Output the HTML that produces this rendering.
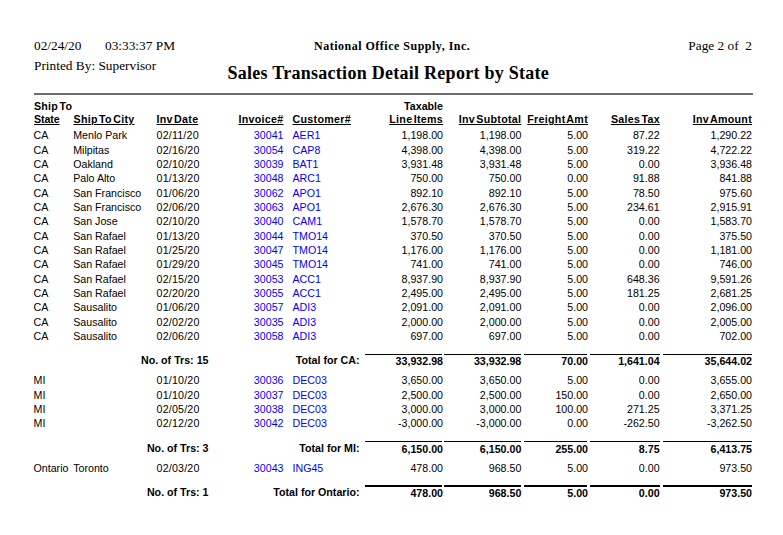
<!DOCTYPE html>
<html><head><meta charset="utf-8"><title>Sales Transaction Detail Report by State</title>
<style>
html,body{margin:0;padding:0;background:#fff;}
body{width:783px;height:535px;position:relative;overflow:hidden;font-family:"Liberation Sans",sans-serif;}
.t{position:absolute;white-space:nowrap;font-family:"Liberation Sans",sans-serif;font-size:10.67px;line-height:14px;color:#000;}
.b{color:#0000ff;}
.bd{font-weight:bold;}
.s{font-family:"Liberation Serif",serif;font-size:13.33px;line-height:16px;color:#000;}
.u{text-decoration:underline;font-weight:bold;letter-spacing:0.3px;word-spacing:-2px;text-underline-offset:1px;}
.d{letter-spacing:0.2px;}
.ln{position:absolute;background:#000;}
</style></head><body>
<span class="t s" style="left:34px;top:38px">02/24/20</span>
<span class="t s" style="left:105px;top:38px">03:33:37 PM</span>
<span class="t s" style="left:34px;top:57.5px">Printed By: Supervisor</span>
<span class="t s" style="left:314px;top:37.5px;font-weight:bold;font-size:12px;letter-spacing:0.5px">National Office Supply, Inc.</span>
<span class="t s" style="right:31px;top:38px">Page 2 of&nbsp; 2</span>
<span class="t s" style="left:227.5px;top:61.8px;font-weight:bold;font-size:18px;line-height:22px;letter-spacing:0.27px">Sales Transaction Detail Report by State</span>
<div class="ln" style="left:34px;top:93px;width:719px;height:2px;background:#6e6e6e"></div>
<span class="t bd" style="left:34px;top:99.3px;word-spacing:-1.5px;letter-spacing:0.2px">Ship To</span>
<span class="t u" style="left:34px;top:111.8px;letter-spacing:-0.1px">State</span>
<span class="t u" style="left:73.5px;top:111.8px">Ship To City</span>
<span class="t u" style="left:156.5px;top:111.8px">Inv Date</span>
<span class="t u" style="right:499.5px;top:111.8px">Invoice#</span>
<span class="t u" style="left:292.5px;top:111.8px">Customer#</span>
<span class="t bd" style="right:340px;top:99.3px">Taxable</span>
<span class="t u" style="right:340px;top:111.8px">Line Items</span>
<span class="t u" style="right:261.70000000000005px;top:111.8px">Inv Subtotal</span>
<span class="t u" style="right:195px;top:111.8px">Freight Amt</span>
<span class="t u" style="right:123px;top:111.8px">Sales Tax</span>
<span class="t u" style="right:31px;top:111.8px">Inv Amount</span>
<span class="t " style="left:33.5px;top:128.3px">CA</span>
<span class="t " style="left:73.2px;top:128.3px">Menlo Park</span>
<span class="t d" style="left:156.5px;top:128.3px">02/11/20</span>
<span class="t b" style="right:499.5px;top:128.3px">30041</span>
<span class="t b" style="left:292.5px;top:128.3px">AER1</span>
<span class="t " style="right:340px;top:128.3px">1,198.00</span>
<span class="t " style="right:261.7px;top:128.3px">1,198.00</span>
<span class="t " style="right:195px;top:128.3px">5.00</span>
<span class="t " style="right:123.4px;top:128.3px">87.22</span>
<span class="t " style="right:31px;top:128.3px">1,290.22</span>
<span class="t " style="left:33.5px;top:143.3px">CA</span>
<span class="t " style="left:73.2px;top:143.3px">Milpitas</span>
<span class="t d" style="left:156.5px;top:143.3px">02/16/20</span>
<span class="t b" style="right:499.5px;top:143.3px">30054</span>
<span class="t b" style="left:292.5px;top:143.3px">CAP8</span>
<span class="t " style="right:340px;top:143.3px">4,398.00</span>
<span class="t " style="right:261.7px;top:143.3px">4,398.00</span>
<span class="t " style="right:195px;top:143.3px">5.00</span>
<span class="t " style="right:123.4px;top:143.3px">319.22</span>
<span class="t " style="right:31px;top:143.3px">4,722.22</span>
<span class="t " style="left:33.5px;top:157.3px">CA</span>
<span class="t " style="left:73.2px;top:157.3px">Oakland</span>
<span class="t d" style="left:156.5px;top:157.3px">02/10/20</span>
<span class="t b" style="right:499.5px;top:157.3px">30039</span>
<span class="t b" style="left:292.5px;top:157.3px">BAT1</span>
<span class="t " style="right:340px;top:157.3px">3,931.48</span>
<span class="t " style="right:261.7px;top:157.3px">3,931.48</span>
<span class="t " style="right:195px;top:157.3px">5.00</span>
<span class="t " style="right:123.4px;top:157.3px">0.00</span>
<span class="t " style="right:31px;top:157.3px">3,936.48</span>
<span class="t " style="left:33.5px;top:171.3px">CA</span>
<span class="t " style="left:73.2px;top:171.3px">Palo Alto</span>
<span class="t d" style="left:156.5px;top:171.3px">01/13/20</span>
<span class="t b" style="right:499.5px;top:171.3px">30048</span>
<span class="t b" style="left:292.5px;top:171.3px">ARC1</span>
<span class="t " style="right:340px;top:171.3px">750.00</span>
<span class="t " style="right:261.7px;top:171.3px">750.00</span>
<span class="t " style="right:195px;top:171.3px">0.00</span>
<span class="t " style="right:123.4px;top:171.3px">91.88</span>
<span class="t " style="right:31px;top:171.3px">841.88</span>
<span class="t " style="left:33.5px;top:186.3px">CA</span>
<span class="t " style="left:73.2px;top:186.3px">San Francisco</span>
<span class="t d" style="left:156.5px;top:186.3px">01/06/20</span>
<span class="t b" style="right:499.5px;top:186.3px">30062</span>
<span class="t b" style="left:292.5px;top:186.3px">APO1</span>
<span class="t " style="right:340px;top:186.3px">892.10</span>
<span class="t " style="right:261.7px;top:186.3px">892.10</span>
<span class="t " style="right:195px;top:186.3px">5.00</span>
<span class="t " style="right:123.4px;top:186.3px">78.50</span>
<span class="t " style="right:31px;top:186.3px">975.60</span>
<span class="t " style="left:33.5px;top:200.3px">CA</span>
<span class="t " style="left:73.2px;top:200.3px">San Francisco</span>
<span class="t d" style="left:156.5px;top:200.3px">02/06/20</span>
<span class="t b" style="right:499.5px;top:200.3px">30063</span>
<span class="t b" style="left:292.5px;top:200.3px">APO1</span>
<span class="t " style="right:340px;top:200.3px">2,676.30</span>
<span class="t " style="right:261.7px;top:200.3px">2,676.30</span>
<span class="t " style="right:195px;top:200.3px">5.00</span>
<span class="t " style="right:123.4px;top:200.3px">234.61</span>
<span class="t " style="right:31px;top:200.3px">2,915.91</span>
<span class="t " style="left:33.5px;top:214.3px">CA</span>
<span class="t " style="left:73.2px;top:214.3px">San Jose</span>
<span class="t d" style="left:156.5px;top:214.3px">02/10/20</span>
<span class="t b" style="right:499.5px;top:214.3px">30040</span>
<span class="t b" style="left:292.5px;top:214.3px">CAM1</span>
<span class="t " style="right:340px;top:214.3px">1,578.70</span>
<span class="t " style="right:261.7px;top:214.3px">1,578.70</span>
<span class="t " style="right:195px;top:214.3px">5.00</span>
<span class="t " style="right:123.4px;top:214.3px">0.00</span>
<span class="t " style="right:31px;top:214.3px">1,583.70</span>
<span class="t " style="left:33.5px;top:229.3px">CA</span>
<span class="t " style="left:73.2px;top:229.3px">San Rafael</span>
<span class="t d" style="left:156.5px;top:229.3px">01/13/20</span>
<span class="t b" style="right:499.5px;top:229.3px">30044</span>
<span class="t b" style="left:292.5px;top:229.3px">TMO14</span>
<span class="t " style="right:340px;top:229.3px">370.50</span>
<span class="t " style="right:261.7px;top:229.3px">370.50</span>
<span class="t " style="right:195px;top:229.3px">5.00</span>
<span class="t " style="right:123.4px;top:229.3px">0.00</span>
<span class="t " style="right:31px;top:229.3px">375.50</span>
<span class="t " style="left:33.5px;top:243.3px">CA</span>
<span class="t " style="left:73.2px;top:243.3px">San Rafael</span>
<span class="t d" style="left:156.5px;top:243.3px">01/25/20</span>
<span class="t b" style="right:499.5px;top:243.3px">30047</span>
<span class="t b" style="left:292.5px;top:243.3px">TMO14</span>
<span class="t " style="right:340px;top:243.3px">1,176.00</span>
<span class="t " style="right:261.7px;top:243.3px">1,176.00</span>
<span class="t " style="right:195px;top:243.3px">5.00</span>
<span class="t " style="right:123.4px;top:243.3px">0.00</span>
<span class="t " style="right:31px;top:243.3px">1,181.00</span>
<span class="t " style="left:33.5px;top:257.3px">CA</span>
<span class="t " style="left:73.2px;top:257.3px">San Rafael</span>
<span class="t d" style="left:156.5px;top:257.3px">01/29/20</span>
<span class="t b" style="right:499.5px;top:257.3px">30045</span>
<span class="t b" style="left:292.5px;top:257.3px">TMO14</span>
<span class="t " style="right:340px;top:257.3px">741.00</span>
<span class="t " style="right:261.7px;top:257.3px">741.00</span>
<span class="t " style="right:195px;top:257.3px">5.00</span>
<span class="t " style="right:123.4px;top:257.3px">0.00</span>
<span class="t " style="right:31px;top:257.3px">746.00</span>
<span class="t " style="left:33.5px;top:272.3px">CA</span>
<span class="t " style="left:73.2px;top:272.3px">San Rafael</span>
<span class="t d" style="left:156.5px;top:272.3px">02/15/20</span>
<span class="t b" style="right:499.5px;top:272.3px">30053</span>
<span class="t b" style="left:292.5px;top:272.3px">ACC1</span>
<span class="t " style="right:340px;top:272.3px">8,937.90</span>
<span class="t " style="right:261.7px;top:272.3px">8,937.90</span>
<span class="t " style="right:195px;top:272.3px">5.00</span>
<span class="t " style="right:123.4px;top:272.3px">648.36</span>
<span class="t " style="right:31px;top:272.3px">9,591.26</span>
<span class="t " style="left:33.5px;top:286.3px">CA</span>
<span class="t " style="left:73.2px;top:286.3px">San Rafael</span>
<span class="t d" style="left:156.5px;top:286.3px">02/20/20</span>
<span class="t b" style="right:499.5px;top:286.3px">30055</span>
<span class="t b" style="left:292.5px;top:286.3px">ACC1</span>
<span class="t " style="right:340px;top:286.3px">2,495.00</span>
<span class="t " style="right:261.7px;top:286.3px">2,495.00</span>
<span class="t " style="right:195px;top:286.3px">5.00</span>
<span class="t " style="right:123.4px;top:286.3px">181.25</span>
<span class="t " style="right:31px;top:286.3px">2,681.25</span>
<span class="t " style="left:33.5px;top:300.3px">CA</span>
<span class="t " style="left:73.2px;top:300.3px">Sausalito</span>
<span class="t d" style="left:156.5px;top:300.3px">01/06/20</span>
<span class="t b" style="right:499.5px;top:300.3px">30057</span>
<span class="t b" style="left:292.5px;top:300.3px">ADI3</span>
<span class="t " style="right:340px;top:300.3px">2,091.00</span>
<span class="t " style="right:261.7px;top:300.3px">2,091.00</span>
<span class="t " style="right:195px;top:300.3px">5.00</span>
<span class="t " style="right:123.4px;top:300.3px">0.00</span>
<span class="t " style="right:31px;top:300.3px">2,096.00</span>
<span class="t " style="left:33.5px;top:315.3px">CA</span>
<span class="t " style="left:73.2px;top:315.3px">Sausalito</span>
<span class="t d" style="left:156.5px;top:315.3px">02/02/20</span>
<span class="t b" style="right:499.5px;top:315.3px">30035</span>
<span class="t b" style="left:292.5px;top:315.3px">ADI3</span>
<span class="t " style="right:340px;top:315.3px">2,000.00</span>
<span class="t " style="right:261.7px;top:315.3px">2,000.00</span>
<span class="t " style="right:195px;top:315.3px">5.00</span>
<span class="t " style="right:123.4px;top:315.3px">0.00</span>
<span class="t " style="right:31px;top:315.3px">2,005.00</span>
<span class="t " style="left:33.5px;top:329.3px">CA</span>
<span class="t " style="left:73.2px;top:329.3px">Sausalito</span>
<span class="t d" style="left:156.5px;top:329.3px">02/06/20</span>
<span class="t b" style="right:499.5px;top:329.3px">30058</span>
<span class="t b" style="left:292.5px;top:329.3px">ADI3</span>
<span class="t " style="right:340px;top:329.3px">697.00</span>
<span class="t " style="right:261.7px;top:329.3px">697.00</span>
<span class="t " style="right:195px;top:329.3px">5.00</span>
<span class="t " style="right:123.4px;top:329.3px">0.00</span>
<span class="t " style="right:31px;top:329.3px">702.00</span>
<span class="t bd" style="right:574.5px;top:353.3px">No. of Trs: 15</span>
<span class="t bd" style="right:423.5px;top:353.3px">Total for CA:</span>
<span class="t bd" style="right:340px;top:354.3px">33,932.98</span>
<span class="t bd" style="right:261.7px;top:354.3px">33,932.98</span>
<span class="t bd" style="right:195px;top:354.3px">70.00</span>
<span class="t bd" style="right:123.4px;top:354.3px">1,641.04</span>
<span class="t bd" style="right:31px;top:354.3px">35,644.02</span>
<div class="ln" style="left:365px;top:353.5px;width:77px;height:1.5px"></div>
<div class="ln" style="left:444px;top:353.5px;width:77px;height:1.5px"></div>
<div class="ln" style="left:524px;top:353.5px;width:63px;height:1.5px"></div>
<div class="ln" style="left:590px;top:353.5px;width:70px;height:1.5px"></div>
<div class="ln" style="left:663px;top:353.5px;width:89px;height:1.5px"></div>
<span class="t " style="left:33.5px;top:373.3px">MI</span>
<span class="t d" style="left:156.5px;top:373.3px">01/10/20</span>
<span class="t b" style="right:499.5px;top:373.3px">30036</span>
<span class="t b" style="left:292.5px;top:373.3px">DEC03</span>
<span class="t " style="right:340px;top:373.3px">3,650.00</span>
<span class="t " style="right:261.7px;top:373.3px">3,650.00</span>
<span class="t " style="right:195px;top:373.3px">5.00</span>
<span class="t " style="right:123.4px;top:373.3px">0.00</span>
<span class="t " style="right:31px;top:373.3px">3,655.00</span>
<span class="t " style="left:33.5px;top:388.3px">MI</span>
<span class="t d" style="left:156.5px;top:388.3px">01/10/20</span>
<span class="t b" style="right:499.5px;top:388.3px">30037</span>
<span class="t b" style="left:292.5px;top:388.3px">DEC03</span>
<span class="t " style="right:340px;top:388.3px">2,500.00</span>
<span class="t " style="right:261.7px;top:388.3px">2,500.00</span>
<span class="t " style="right:195px;top:388.3px">150.00</span>
<span class="t " style="right:123.4px;top:388.3px">0.00</span>
<span class="t " style="right:31px;top:388.3px">2,650.00</span>
<span class="t " style="left:33.5px;top:402.3px">MI</span>
<span class="t d" style="left:156.5px;top:402.3px">02/05/20</span>
<span class="t b" style="right:499.5px;top:402.3px">30038</span>
<span class="t b" style="left:292.5px;top:402.3px">DEC03</span>
<span class="t " style="right:340px;top:402.3px">3,000.00</span>
<span class="t " style="right:261.7px;top:402.3px">3,000.00</span>
<span class="t " style="right:195px;top:402.3px">100.00</span>
<span class="t " style="right:123.4px;top:402.3px">271.25</span>
<span class="t " style="right:31px;top:402.3px">3,371.25</span>
<span class="t " style="left:33.5px;top:416.3px">MI</span>
<span class="t d" style="left:156.5px;top:416.3px">02/12/20</span>
<span class="t b" style="right:499.5px;top:416.3px">30042</span>
<span class="t b" style="left:292.5px;top:416.3px">DEC03</span>
<span class="t " style="right:340px;top:416.3px">-3,000.00</span>
<span class="t " style="right:261.7px;top:416.3px">-3,000.00</span>
<span class="t " style="right:195px;top:416.3px">0.00</span>
<span class="t " style="right:123.4px;top:416.3px">-262.50</span>
<span class="t " style="right:31px;top:416.3px">-3,262.50</span>
<span class="t bd" style="right:574.5px;top:441.3px">No. of Trs: 3</span>
<span class="t bd" style="right:423.5px;top:441.3px">Total for MI:</span>
<span class="t bd" style="right:340px;top:442.3px">6,150.00</span>
<span class="t bd" style="right:261.7px;top:442.3px">6,150.00</span>
<span class="t bd" style="right:195px;top:442.3px">255.00</span>
<span class="t bd" style="right:123.4px;top:442.3px">8.75</span>
<span class="t bd" style="right:31px;top:442.3px">6,413.75</span>
<div class="ln" style="left:365px;top:440.7px;width:77px;height:1.3px"></div>
<div class="ln" style="left:444px;top:440.7px;width:77px;height:1.3px"></div>
<div class="ln" style="left:524px;top:440.7px;width:63px;height:1.3px"></div>
<div class="ln" style="left:590px;top:440.7px;width:70px;height:1.3px"></div>
<div class="ln" style="left:663px;top:440.7px;width:89px;height:1.3px"></div>
<span class="t " style="left:33.5px;top:461.3px">Ontario</span>
<span class="t " style="left:73.2px;top:461.3px">Toronto</span>
<span class="t d" style="left:156.5px;top:461.3px">02/03/20</span>
<span class="t b" style="right:499.5px;top:461.3px">30043</span>
<span class="t b" style="left:292.5px;top:461.3px">ING45</span>
<span class="t " style="right:340px;top:461.3px">478.00</span>
<span class="t " style="right:261.7px;top:461.3px">968.50</span>
<span class="t " style="right:195px;top:461.3px">5.00</span>
<span class="t " style="right:123.4px;top:461.3px">0.00</span>
<span class="t " style="right:31px;top:461.3px">973.50</span>
<span class="t bd" style="right:574.5px;top:485.3px">No. of Trs: 1</span>
<span class="t bd" style="right:423.5px;top:485.3px">Total for Ontario:</span>
<span class="t bd" style="right:340px;top:486.3px">478.00</span>
<span class="t bd" style="right:261.7px;top:486.3px">968.50</span>
<span class="t bd" style="right:195px;top:486.3px">5.00</span>
<span class="t bd" style="right:123.4px;top:486.3px">0.00</span>
<span class="t bd" style="right:31px;top:486.3px">973.50</span>
<div class="ln" style="left:365px;top:485px;width:77px;height:2px"></div>
<div class="ln" style="left:444px;top:485px;width:77px;height:2px"></div>
<div class="ln" style="left:524px;top:485px;width:63px;height:2px"></div>
<div class="ln" style="left:590px;top:485px;width:70px;height:2px"></div>
<div class="ln" style="left:663px;top:485px;width:89px;height:2px"></div>
</body></html>
